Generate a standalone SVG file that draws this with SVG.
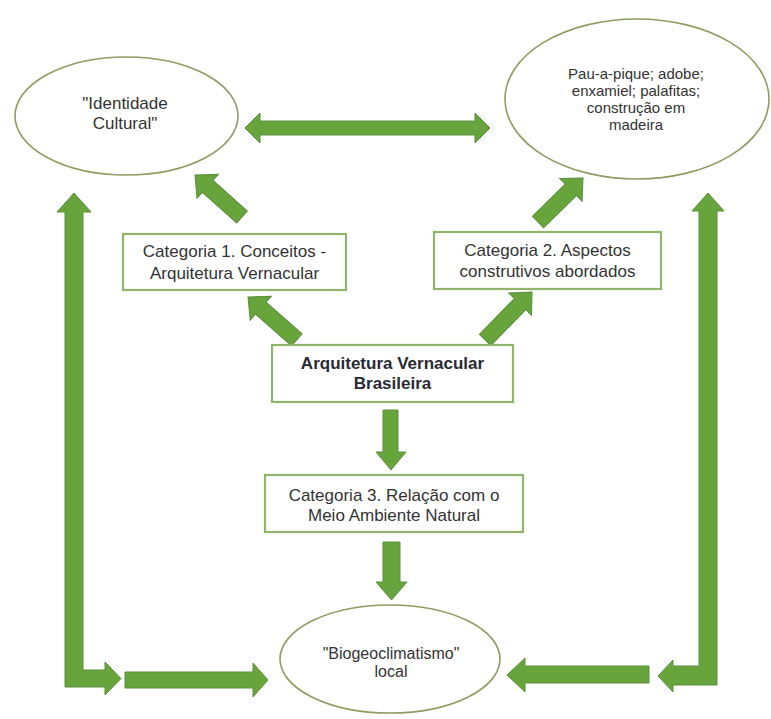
<svg xmlns="http://www.w3.org/2000/svg" width="771" height="719" viewBox="0 0 771 719">
<style>
.ell{fill:#fff;stroke:#8d9c62;stroke-width:1.6}
.box{fill:#fff;stroke:#92b36c;stroke-width:2.2}
.arr{fill:#67a43c;stroke:#5d8f3c;stroke-width:1;stroke-linejoin:miter}
.t{font-family:"Liberation Sans",Arial,sans-serif;font-size:17px;fill:#333;text-anchor:middle}
.s{font-size:15px}
.m{font-size:16px}
.b{font-weight:bold;fill:#2a2a35}
</style>
<rect width="771" height="719" fill="#fff"/>
<g id="connectors">
  <polygon class="arr" points="245,128 260,113 260,121 475,121 475,113 490,128 475,143 475,135 260,135 260,143"/>
  <polygon class="arr" transform="translate(195,175) rotate(221.8)" points="-63,-8 -17,-8 -17,-16 0,0 -17,16 -17,8 -63,8"/>
  <polygon class="arr" transform="translate(248,297) rotate(221.3)" points="-65,-8 -17,-8 -17,-16 0,0 -17,16 -17,8 -65,8"/>
  <polygon class="arr" transform="translate(532,292) rotate(-45.6)" points="-67,-8 -17,-8 -17,-16 0,0 -17,16 -17,8 -67,8"/>
  <polygon class="arr" transform="translate(583,178) rotate(-44.4)" points="-63,-8 -17,-8 -17,-16 0,0 -17,16 -17,8 -63,8"/>
  <polygon class="arr" points="383,410 398,410 398,452 406,452 391,470 376,452 383,452"/>
  <polygon class="arr" points="383,542 400,542 400,582 407,582 391.5,600 376,582 383,582"/>
  <polygon class="arr" points="74,193 91,212 83,212 83,670 105,670 105,662 121,678.5 105,695 105,687 65,687 65,212 57,212"/>
  <polygon class="arr" points="125,672 253,672 253,663 268,680 253,697 253,688 125,688"/>
  <polygon class="arr" points="708,193 724,211 717,211 717,685 673,685 673,692 658,676 673,660 673,666 699,666 699,211 692,211"/>
  <polygon class="arr" points="649,666 525,666 525,658 507,675 525,692 525,683 649,683"/>
</g>
<g id="identidade">
  <ellipse class="ell" cx="126.5" cy="116" rx="111.5" ry="59"/>
  <text class="t" x="125" y="109">"Identidade</text>
  <text class="t" x="125" y="129">Cultural"</text>
</g>
<g id="tecnicas">
  <ellipse class="ell" cx="637" cy="99" rx="132" ry="80"/>
  <text class="t s" x="636" y="79">Pau-a-pique; adobe;</text>
  <text class="t s" x="636" y="96">enxamiel; palafitas;</text>
  <text class="t s" x="636" y="113">construção em</text>
  <text class="t s" x="636" y="130">madeira</text>
</g>
<g id="cat1">
  <rect class="box" x="123" y="234" width="223" height="56"/>
  <text class="t" x="234.5" y="257">Categoria 1. Conceitos -</text>
  <text class="t" x="234.5" y="279">Arquitetura Vernacular</text>
</g>
<g id="cat2">
  <rect class="box" x="434" y="232" width="227" height="57"/>
  <text class="t" x="547.5" y="256">Categoria 2. Aspectos</text>
  <text class="t" x="547.5" y="277">construtivos abordados</text>
</g>
<g id="arq">
  <rect class="box" x="272" y="345" width="241" height="57"/>
  <text class="t b" x="392.5" y="369">Arquitetura Vernacular</text>
  <text class="t b" x="392.5" y="389">Brasileira</text>
</g>
<g id="cat3">
  <rect class="box" x="265" y="475" width="258" height="57"/>
  <text class="t" x="394" y="501">Categoria 3. Relação com o</text>
  <text class="t" x="394" y="521">Meio Ambiente Natural</text>
</g>
<g id="biogeo">
  <ellipse class="ell" cx="390" cy="659" rx="110" ry="54"/>
  <text class="t m" x="391" y="659">"Biogeoclimatismo"</text>
  <text class="t m" x="391" y="677">local</text>
</g>
</svg>
